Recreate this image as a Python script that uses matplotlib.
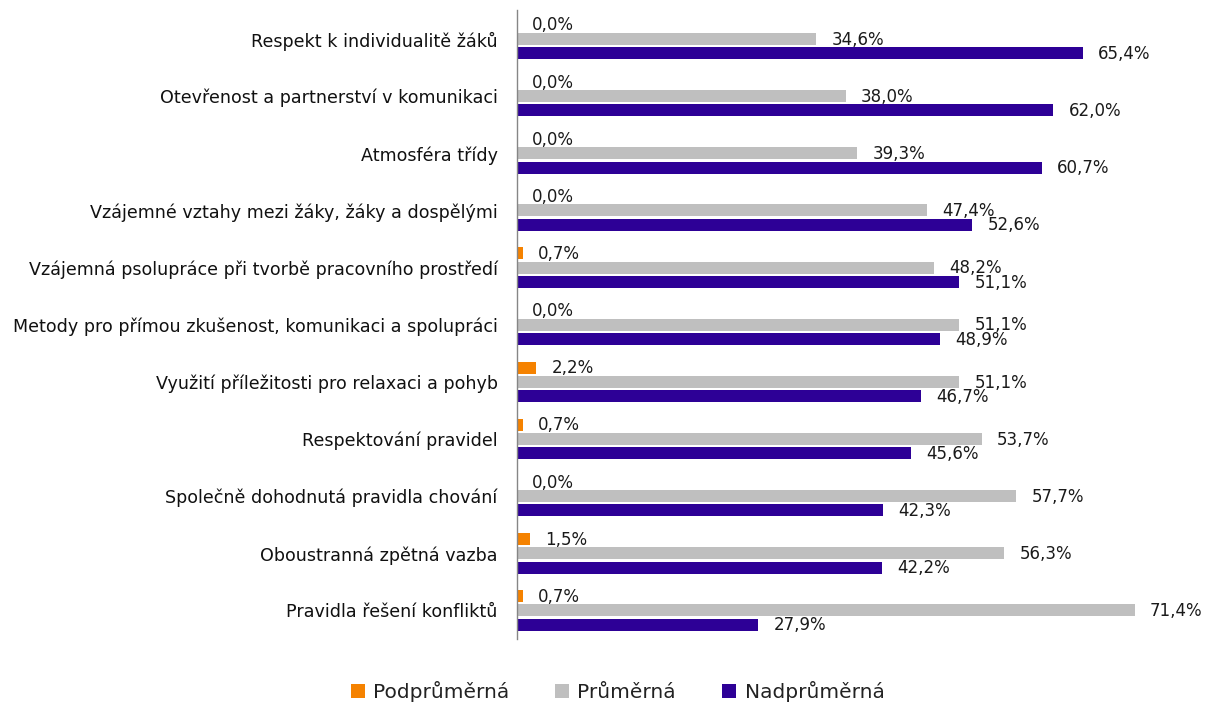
import matplotlib.pyplot as plt
import numpy as np

categories = [
    "Respekt k individualitě žáků",
    "Otevřenost a partnerství v komunikaci",
    "Atmosféra třídy",
    "Vzájemné vztahy mezi žáky, žáky a dospělými",
    "Vzájemná psolupráce při tvorbě pracovního prostředí",
    "Metody pro přímou zkušenost, komunikaci a spolupráci",
    "Využití příležitosti pro relaxaci a pohyb",
    "Respektování pravidel",
    "Společně dohodnutá pravidla chování",
    "Oboustranná zpětná vazba",
    "Pravidla řešení konfliktů",
]
podprumerna = [0.0, 0.0, 0.0, 0.0, 0.7, 0.0, 2.2, 0.7, 0.0, 1.5, 0.7]
prumerna = [34.6, 38.0, 39.3, 47.4, 48.2, 51.1, 51.1, 53.7, 57.7, 56.3, 71.4]
nadprumerna = [65.4, 62.0, 60.7, 52.6, 51.1, 48.9, 46.7, 45.6, 42.3, 42.2, 27.9]

series_names = ["Podprůměrná", "Průměrná", "Nadprůměrná"]
colors = ["#F58200", "#BFBFBF", "#2D0096"]

fig = plt.figure(figsize=(12.07, 7.04), dpi=100)
ax = fig.add_axes([517 / 1207, 1 - 639 / 704, (75 * 8.65) / 1207, 628.6 / 704])

y = np.arange(len(categories))
h = 0.21
step = 0.25
offsets = [-step, 0, step]

for vals, off, col, name in zip([podprumerna, prumerna, nadprumerna], offsets, colors, series_names):
    ax.barh(y + off, vals, height=h, color=col, label=name)
    # popisky hodnot za koncem sloupce
    for yi, v in zip(y, vals):
        ax.annotate(f"{v:.1f}%".replace(".", ","), (v, yi + off), xytext=(11, -0.5),
                    textcoords="offset points", va="center", ha="left",
                    fontsize=12, family="DejaVu Sans", color="#1a1a1a")

ax.set_xlim(0, 75)
ax.set_ylim(len(categories) - 0.5, -0.5)
ax.set_yticks(y)
ax.set_yticklabels(categories, fontsize=12.6, family="DejaVu Sans", color="#111111")
ax.tick_params(axis="y", length=0, pad=14)
ax.set_xticks([])
for s in ["top", "right", "bottom"]:
    ax.spines[s].set_visible(False)
ax.spines["left"].set_color("#868686")
ax.spines["left"].set_linewidth(1)

fig.legend(loc="center", bbox_to_anchor=(0.5116, 0.018), ncol=3, frameon=False,
           prop={"family": "DejaVu Sans", "size": 14.5}, handlelength=0.7, handleheight=0.7,
           handletextpad=0.4, columnspacing=2.3, labelcolor="#222222")

fig.savefig("out.png", dpi=100)
